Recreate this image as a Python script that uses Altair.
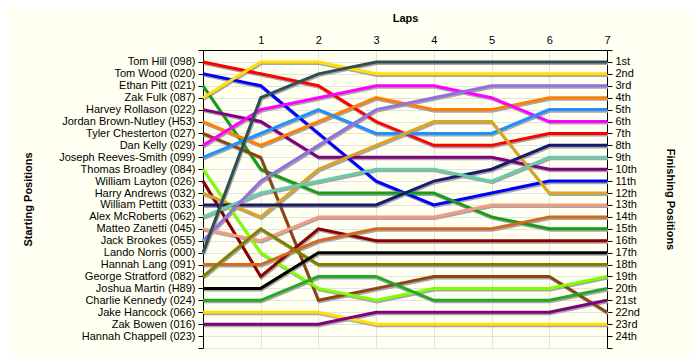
import json
import altair as alt
import pandas as pd

laps = [0, 1, 2, 3, 4, 5, 6, 7]

drivers = [
    "Tom Hill (098)", "Tom Wood (020)", "Ethan Pitt (021)", "Zak Fulk (087)",
    "Harvey Rollason (022)", "Jordan Brown-Nutley (H53)", "Tyler Chesterton (027)",
    "Dan Kelly (029)", "Joseph Reeves-Smith (099)", "Thomas Broadley (084)",
    "William Layton (026)", "Harry Andrews (032)", "William Pettitt (033)",
    "Alex McRoberts (062)", "Matteo Zanetti (045)", "Jack Brookes (055)",
    "Lando Norris (000)", "Hannah Lang (091)", "George Stratford (082)",
    "Joshua Martin (H89)", "Charlie Kennedy (024)", "Jake Hancock (066)",
    "Zak Bowen (016)", "Hannah Chappell (023)",
]

finish_labels = [
    "1st", "2nd", "3rd", "4th", "5th", "6th", "7th", "8th", "9th", "10th",
    "11th", "12th", "13th", "14th", "15th", "16th", "17th", "18th", "19th",
    "20th", "21st", "22nd", "23rd", "24th",
]

# position of each driver at laps 0..7
tom_hill        = [1, 2, 3, 6, 8, 8, 7, 7]
tom_wood        = [2, 3, 7, 11, 13, 12, 11, 11]
ethan_pitt      = [3, 10, 12, 12, 12, 14, 15, 15]
zak_fulk        = [4, 1, 1, 2, 2, 2, 2, 2]
harvey_rollason = [5, 6, 9, 9, 9, 9, 10, 10]
jordan_brown    = [6, 8, 6, 4, 5, 5, 4, 4]
tyler_chester   = [7, 9, 21, 20, 19, 19, 19, 22]
dan_kelly       = [8, 5, 4, 3, 3, 4, 6, 6]
joseph_reeves   = [9, 7, 5, 7, 7, 7, 5, 5]
thomas_broadley = [10, 17, 20, 21, 20, 20, 20, 19]
william_layton  = [11, 19, 15, 16, 16, 16, 16, 16]
harry_andrews   = [12, 14, 10, 8, 6, 6, 12, 12]
william_pettitt = [13, 13, 13, 13, 11, 10, 8, 8]
alex_mcroberts  = [14, 12, 11, 10, 10, 11, 9, 9]
matteo_zanetti  = [15, 16, 14, 14, 14, 13, 13, 13]
jack_brookes    = [16, 11, 8, 5, 4, 3, 3, 3]
lando_norris    = [17, 4, 2, 1, 1, 1, 1, 1]
hannah_lang     = [18, 18, 16, 15, 15, 15, 14, 14]
george_stratford = [19, 15, 18, 18, 18, 18, 18, 18]
joshua_martin   = [20, 20, 17, 17, 17, 17, 17, 17]
charlie_kennedy = [21, 21, 19, 19, 21, 21, 21, 20]
jake_hancock    = [22, 22, 22, 23, 23, 23, 23, 23]
zak_bowen       = [23, 23, 23, 22, 22, 22, 22, 21]

series = [
    tom_hill, tom_wood, ethan_pitt, zak_fulk, harvey_rollason, jordan_brown,
    tyler_chester, dan_kelly, joseph_reeves, thomas_broadley, william_layton,
    harry_andrews, william_pettitt, alex_mcroberts, matteo_zanetti, jack_brookes,
    lando_norris, hannah_lang, george_stratford, joshua_martin, charlie_kennedy,
    jake_hancock, zak_bowen,
]

colors = [
    "#FF0000", "#0000FF", "#149E14", "#FFE000", "#800080", "#FF8000",
    "#8B4513", "#FF00FF", "#1E90FF", "#7FFF00", "#8B0000", "#DAA520",
    "#191970", "#66CDAA", "#F59C80", "#9370DB", "#2F4F4F", "#D2691E",
    "#808000", "#000000", "#22A822", "#FFE000", "#800080",
]

rows = []
for name, vals in zip(drivers, series):
    for lap, pos in zip(laps, vals):
        rows.append({"driver": name, "lap": lap, "pos": pos})
df = pd.DataFrame(rows)

left_labels = [""] + drivers + [""]
right_labels = [""] + finish_labels + [""]
ticks = list(range(0, 26))

xscale = alt.Scale(domain=[0, 7], nice=False, zero=False)
yscale = alt.Scale(domain=[0, 25], reverse=True, nice=False, zero=False)

xaxis = alt.Axis(
    orient="top", values=laps, title="Laps",
    labelExpr="datum.value == 0 ? '' : datum.label",
    grid=True, gridColor="#E2E2E2", ticks=False, labelPadding=5,
    labelFlush=False, domainColor="#000000",
    titleY=-32, titleBaseline="middle",
)

left_axis = alt.Axis(
    orient="left", values=ticks, title="Starting Positions",
    labelExpr=json.dumps(left_labels) + "[datum.value]",
    grid=True, gridColor="#E2E2E2", tickColor="#000000", tickSize=5,
    domainColor="#000000", labelPadding=3, labelOverlap=False,
    titleAngle=270, titleX=-175, titleY=149, titleBaseline="middle",
)

right_axis = alt.Axis(
    orient="right", values=ticks, title="Finishing Positions",
    labelExpr=json.dumps(right_labels) + "[datum.value]",
    grid=False, tickColor="#000000", tickSize=5,
    domainColor="#000000", labelPadding=3, labelOverlap=False,
    titleAngle=90, titleX=62, titleY=149, titleBaseline="middle",
)

color = alt.Color("driver:N", scale=alt.Scale(domain=drivers[:23], range=colors), legend=None)

base = alt.Chart(df)

shadow = base.transform_calculate(
    sx="datum.lap + 0.016", sy="datum.pos + 0.13"
).mark_line(color="#A6A6A6", strokeWidth=3).encode(
    x=alt.X("sx:Q", scale=xscale, axis=xaxis),
    y=alt.Y("sy:Q", scale=yscale, axis=left_axis),
    detail="driver:N",
    order="lap:Q",
)

lines = base.mark_line(strokeWidth=3).encode(
    x=alt.X("lap:Q", scale=xscale, axis=xaxis),
    y=alt.Y("pos:Q", scale=yscale, axis=right_axis),
    color=color,
    order="lap:Q",
)

chart = alt.layer(shadow, lines).resolve_scale(y="independent").properties(
    width=404, height=298,
    background="#FFFFF2",
    autosize=alt.AutoSizeParams(type="none"),
    padding={"left": 195, "top": 42, "right": 85, "bottom": 8},
).configure_view(stroke=None).configure_axis(
    labelFont="Liberation Sans", labelFontSize=11, labelColor="#000000",
    titleFont="Liberation Sans", titleFontSize=11, titleFontWeight="bold",
    titleColor="#000000",
)

chart.save("out.html", embed_options={"renderer": "svg", "actions": False})
